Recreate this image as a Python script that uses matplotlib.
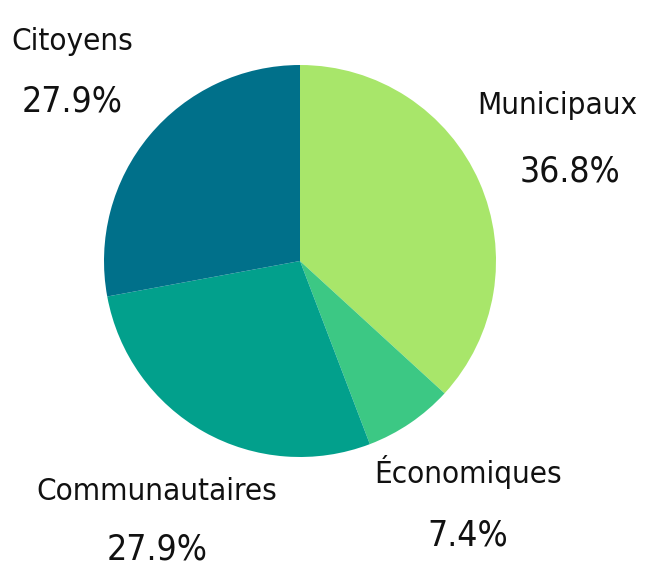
import matplotlib
matplotlib.use("Agg")
import matplotlib.pyplot as plt

categories = ["Municipaux", "Économiques", "Communautaires", "Citoyens"]
shares = [36.8, 7.4, 27.9, 27.9]
colors = ["#a8e66a", "#3cc884", "#02a08c", "#00708a"]

# label anchor points (pixels from top-left) for name and percentage
name_pos = [(557, 106), (468, 472), (157, 492), (72, 42)]
pct_pos = [(570, 172), (468, 536), (157, 550), (72, 102)]

W, H = 660, 572
cx, cy, r = 300, 261, 196

fig = plt.figure(figsize=(W / 100, H / 100), dpi=100)
ax = fig.add_axes([0, 0, 1, 1])
ax.pie(shares, colors=colors, startangle=90, counterclock=False,
       radius=1, center=(0, 0), wedgeprops=dict(linewidth=0))
ax.set_xlim(-cx / r, (W - cx) / r)
ax.set_ylim(-(H - cy) / r, cy / r)
ax.set_aspect("equal")
ax.axis("off")

font = dict(family="DejaVu Sans", stretch="condensed", weight="light",
            color="#111111", ha="center", va="center")


def to_data(p):
    return (p[0] - cx) / r, (cy - p[1]) / r


for name, val, npos, ppos in zip(categories, shares, name_pos, pct_pos):
    ax.text(*to_data(npos), name, fontsize=22.5, **font)
    ax.text(*to_data(ppos), f"{val:.1f}%", fontsize=25.5, **font)

fig.savefig("out.png", dpi=100)
